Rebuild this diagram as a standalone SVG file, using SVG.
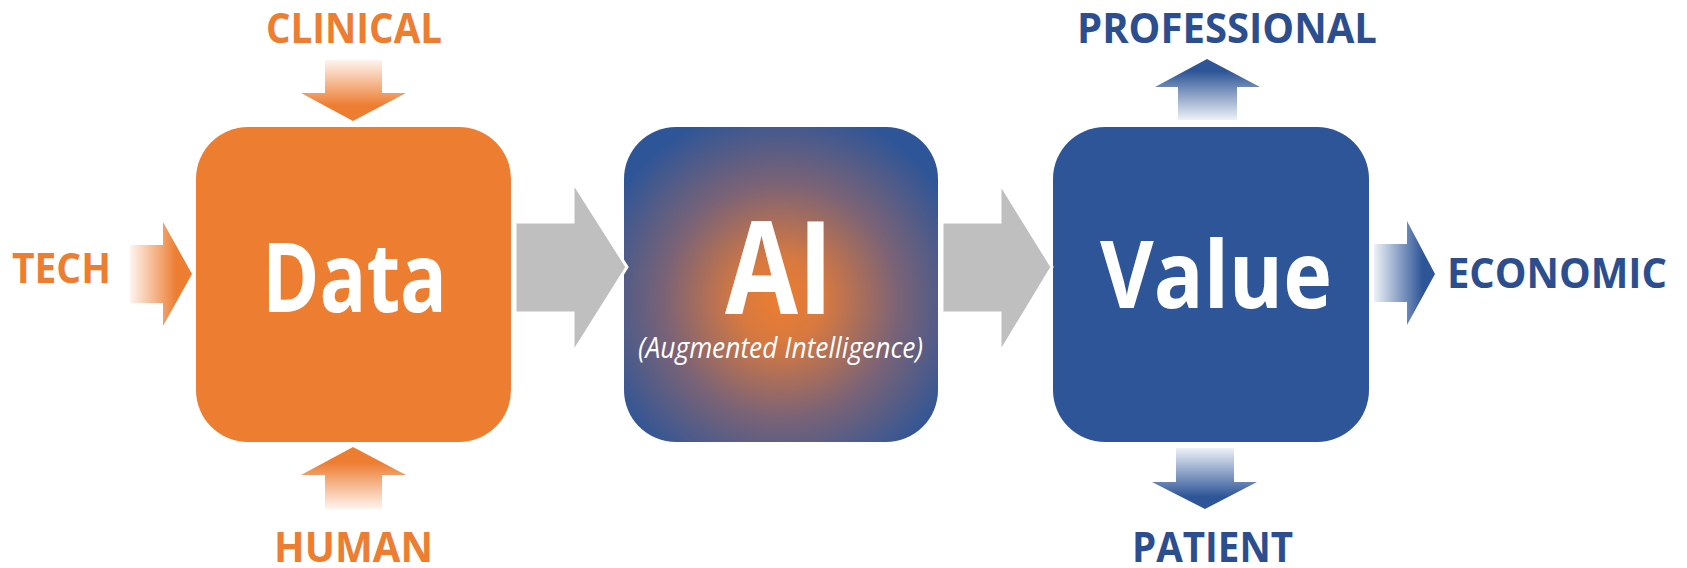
<svg xmlns="http://www.w3.org/2000/svg" width="1687" height="568" viewBox="0 0 1687 568">
  <style>
    .lbl { font-family: "Open Sans", "Liberation Sans", sans-serif; font-weight: 700; font-size: 41px; }
    .or { fill: #ED7D31; }
    .bl { fill: #2C4E8E; }
    .big { font-family: "Open Sans", "Liberation Sans", sans-serif; font-weight: 700; fill: #FFFFFF; }
    .sub { font-family: "Open Sans", "Liberation Sans", sans-serif; font-style: italic; font-size: 29px; fill: #FFFFFF; }
    .gray { fill: #BFBFBF; stroke: #FFFFFF; stroke-width: 3; }
  </style>
  <defs>
    <linearGradient id="gOrDown" x1="0" y1="0" x2="0" y2="1">
      <stop offset="0" stop-color="#ED7D31" stop-opacity="0.08"/>
      <stop offset="0.75" stop-color="#ED7D31" stop-opacity="1"/>
    </linearGradient>
    <linearGradient id="gOrUp" x1="0" y1="1" x2="0" y2="0">
      <stop offset="0" stop-color="#ED7D31" stop-opacity="0.08"/>
      <stop offset="0.75" stop-color="#ED7D31" stop-opacity="1"/>
    </linearGradient>
    <linearGradient id="gOrRight" x1="0" y1="0" x2="1" y2="0">
      <stop offset="0" stop-color="#ED7D31" stop-opacity="0.08"/>
      <stop offset="0.75" stop-color="#ED7D31" stop-opacity="1"/>
    </linearGradient>
    <linearGradient id="gBlUp" x1="0" y1="1" x2="0" y2="0">
      <stop offset="0" stop-color="#2E5597" stop-opacity="0.08"/>
      <stop offset="0.8" stop-color="#2E5597" stop-opacity="1"/>
    </linearGradient>
    <linearGradient id="gBlDown" x1="0" y1="0" x2="0" y2="1">
      <stop offset="0" stop-color="#2E5597" stop-opacity="0.08"/>
      <stop offset="0.8" stop-color="#2E5597" stop-opacity="1"/>
    </linearGradient>
    <linearGradient id="gBlRight" x1="0" y1="0" x2="1" y2="0">
      <stop offset="0" stop-color="#2E5597" stop-opacity="0.08"/>
      <stop offset="0.8" stop-color="#2E5597" stop-opacity="1"/>
    </linearGradient>
    <radialGradient id="gAI" cx="0.5" cy="0.55" r="0.62">
      <stop offset="0" stop-color="#ED7D31"/>
      <stop offset="0.22" stop-color="#D77940"/>
      <stop offset="0.6" stop-color="#7B6376"/>
      <stop offset="1" stop-color="#2E5597"/>
    </radialGradient>
  </defs>

  <g id="node-data">
    <rect x="196" y="127" width="315" height="315" rx="52" ry="52" fill="#ED7D31"/>
    <text class="big" x="262" y="312" font-size="97" textLength="185" lengthAdjust="spacingAndGlyphs">Data</text>
  </g>
  <g id="node-ai">
    <rect x="624" y="127" width="314" height="315" rx="52" ry="52" fill="url(#gAI)"/>
    <text class="big" x="725" y="314" font-size="129" textLength="108" lengthAdjust="spacingAndGlyphs">AI</text>
    <text class="sub" x="638" y="358" textLength="285" lengthAdjust="spacingAndGlyphs">(Augmented Intelligence)</text>
  </g>
  <g id="node-value">
    <rect x="1053" y="127" width="316" height="315" rx="52" ry="52" fill="#2E5597"/>
    <text class="big" x="1100" y="308" font-size="94" textLength="232" lengthAdjust="spacingAndGlyphs">Value</text>
  </g>

  <g id="label-clinical"><text class="lbl or" x="266" y="43" textLength="176" lengthAdjust="spacingAndGlyphs">CLINICAL</text></g>
  <g id="label-tech"><text class="lbl or" x="12" y="283" textLength="99" lengthAdjust="spacingAndGlyphs">TECH</text></g>
  <g id="label-human"><text class="lbl or" x="274" y="562" textLength="159" lengthAdjust="spacingAndGlyphs">HUMAN</text></g>
  <g id="label-professional"><text class="lbl bl" x="1077" y="43" font-size="39" textLength="300" lengthAdjust="spacingAndGlyphs">PROFESSIONAL</text></g>
  <g id="label-economic"><text class="lbl bl" x="1447" y="288" font-size="39" textLength="220" lengthAdjust="spacingAndGlyphs">ECONOMIC</text></g>
  <g id="label-patient"><text class="lbl bl" x="1132" y="562" textLength="161" lengthAdjust="spacingAndGlyphs">PATIENT</text></g>

  <g id="connectors">
    <polygon class="gray" points="515,222 573,222 573,182 627,267 573,353 573,313 515,313"/>
    <polygon class="gray" points="942,222 1000,222 1000,183 1052,267 1000,353 1000,313 942,313"/>
    <polygon fill="url(#gOrDown)" points="325,60 382,60 382,93 406,93 353,121 301,93 325,93"/>
    <polygon fill="url(#gOrRight)" points="130,245 163,245 163,222 192,274 163,326 163,303 130,303"/>
    <polygon fill="url(#gOrUp)" points="353,447 406,475 382,475 382,509 325,509 325,475 301,475"/>
    <polygon fill="url(#gBlUp)" points="1207,59 1260,87 1237,87 1237,120 1178,120 1178,87 1155,87"/>
    <polygon fill="url(#gBlRight)" points="1374,244 1407,244 1407,221 1435,274 1407,325 1407,302 1374,302"/>
    <polygon fill="url(#gBlDown)" points="1176,448 1234,448 1234,482 1257,482 1205,509 1152,482 1176,482"/>
  </g>
</svg>
